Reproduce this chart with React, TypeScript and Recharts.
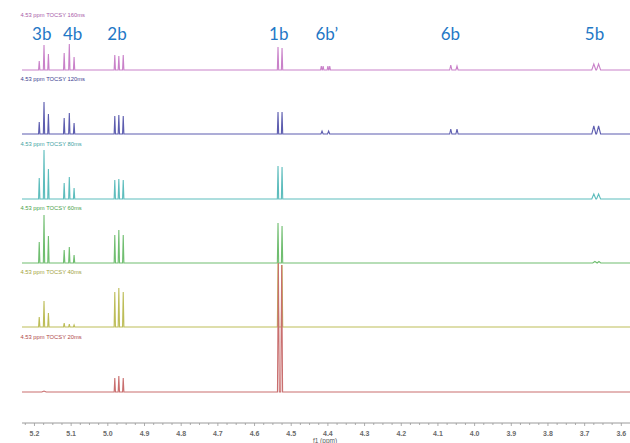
import { LineChart, Line, XAxis, YAxis, ReferenceDot } from 'recharts';

// TOCSY mixing times, top trace first
const mixTimes = ['160ms', '120ms', '80ms', '60ms', '40ms', '20ms'];
const traceColors = ['#c981c9', '#5d5daf', '#5dbdbd', '#70be70', '#bdbd58', '#c96f6f'];
const titleColors = ['#a85aa8', '#3d3d8f', '#3fa3a3', '#4aa24a', '#a3a33a', '#b04848'];
// baseline of each trace, in px from the top of the plot area
const baselines = [70, 134, 199, 263, 327, 392];

// [shift (ppm), intensity, half width (ppm)]
type Peak = [number, number, number?];

const peaks160: Peak[] = [
  [5.187, 9], [5.174, 25], [5.162, 16],
  [5.119, 17], [5.105, 26], [5.092, 13],
  [4.981, 15], [4.970, 14], [4.958, 15],
  [4.536, 23], [4.525, 22],
  [4.418, 4, 0.002], [4.413, 4, 0.002], [4.400, 4, 0.002], [4.395, 4, 0.002],
  [4.065, 5, 0.003], [4.048, 4, 0.003],
  [3.675, 6, 0.0055], [3.662, 6, 0.0055],
];
const peaks120: Peak[] = [
  [5.187, 12], [5.174, 32], [5.162, 20],
  [5.119, 16], [5.105, 21], [5.092, 11],
  [4.981, 18], [4.970, 19], [4.958, 18],
  [4.536, 22], [4.525, 22],
  [4.416, 3, 0.003], [4.398, 3, 0.003],
  [4.065, 5, 0.003], [4.048, 5, 0.003],
  [3.675, 8, 0.0055], [3.662, 8, 0.0055],
];
const peaks80: Peak[] = [
  [5.187, 21], [5.174, 49], [5.162, 30],
  [5.119, 16], [5.105, 22], [5.092, 11],
  [4.981, 19], [4.970, 20], [4.958, 19],
  [4.536, 33], [4.525, 32],
  [3.675, 5, 0.0055], [3.662, 5, 0.0055],
];
const peaks60: Peak[] = [
  [5.187, 21], [5.174, 48], [5.162, 27],
  [5.119, 13], [5.105, 16], [5.092, 8],
  [4.981, 28], [4.970, 33], [4.958, 28],
  [4.536, 40], [4.525, 37],
  [3.672, 1.5, 0.006], [3.661, 1.5, 0.005],
];
const peaks40: Peak[] = [
  [5.187, 10], [5.174, 26], [5.162, 14],
  [5.119, 4], [5.105, 3], [5.092, 2],
  [4.981, 35], [4.970, 39], [4.958, 35],
  [4.536, 64], [4.525, 62],
];
const peaks20: Peak[] = [
  [5.174, 1, 0.006],
  [4.981, 14], [4.970, 16], [4.958, 14],
  [4.535, 129, 0.0025], [4.526, 127, 0.0025],
];
const allPeaks = [peaks160, peaks120, peaks80, peaks60, peaks40, peaks20];

// assignments written above the top trace
const assignLabels = ['3b', '4b', '2b', '1b', '6b\u2019', '6b', '5b'];
const assignShifts = [5.180, 5.096, 4.975, 4.534, 4.403, 4.066, 3.673];

const PPM_MIN = 3.5;
const PPM_MAX = 5.234;
const PLOT_H = 423;

// ticks every 0.025 ppm, labelled every 0.1
const ticks = Array.from({ length: 70 }, (_, i) => (140 + i) * 25 / 1000);

function toTrace(peaks: Peak[]) {
  const pts = [{ ppm: PPM_MAX, v: 0 }];
  [...peaks].sort((a, b) => b[0] - a[0]).forEach(([p, h, w = 0.0018]) => {
    pts.push({ ppm: p + w, v: 0 }, { ppm: p, v: h }, { ppm: p - w, v: 0 });
  });
  pts.push({ ppm: PPM_MIN, v: 0 });
  return pts;
}

const PpmTick = ({ x, y, payload }: any) => {
  const v = payload.value as number;
  const major = Math.abs(v * 10 - Math.round(v * 10)) < 1e-6;
  return (
    <g>
      <line x1={x} x2={x} y1={y} y2={y + (major ? 3 : 2)} stroke="#999" strokeWidth={0.8} />
      {major && (
        <text x={x} y={y + 10} textAnchor="middle" dominantBaseline="central"
          fontSize={7} fontWeight={600} fill="#6a6a6a" fontFamily="'Liberation Sans', sans-serif">
          {v.toFixed(1)}
        </text>
      )}
    </g>
  );
};

const AxisTitle = ({ viewBox }: any) => (
  <text x={viewBox.x + 303} y={viewBox.y + 17} textAnchor="middle" dominantBaseline="central"
    fontSize={6.5} fill="#555" fontFamily="'Liberation Sans', sans-serif">
    f1 (ppm)
  </text>
);

export default function App() {
  return (
    <div style={{ position: 'fixed', top: 0, left: 0, width: 630, height: 443, overflow: 'hidden', background: '#fff' }}>
      <LineChart width={660} height={443} margin={{ top: 0, right: 2, bottom: 0, left: 22 }}>
        <XAxis
          type="number" dataKey="ppm" domain={[PPM_MIN, PPM_MAX]} reversed allowDataOverflow
          ticks={ticks} interval={0} tickSize={0} tickMargin={0} tickLine={false}
          tick={<PpmTick />} axisLine={{ stroke: '#9a9a9a' }} height={20}
          label={<AxisTitle />}
        />
        {mixTimes.map((t, i) => (
          <YAxis key={t} yAxisId={t} hide allowDataOverflow
            domain={[baselines[i] - PLOT_H, baselines[i]]} />
        ))}
        {mixTimes.map((t, i) => (
          <Line key={t} yAxisId={t} data={toTrace(allPeaks[i])} dataKey="v" type="linear"
            stroke={traceColors[i]} strokeWidth={1.1} dot={false} activeDot={false}
            isAnimationActive={false} />
        ))}
        {mixTimes.map((t, i) => (
          <ReferenceDot key={`title-${t}`} yAxisId={t} x={5.23} y={55} r={1}
            shape={(p: any) => (
              <text x={p.cx - 3} y={p.cy} dominantBaseline="central" fontSize={5.8}
                fill={titleColors[i]} fontFamily="'Liberation Sans', sans-serif">
                {`4.53 ppm TOCSY ${t}`}
              </text>
            )} />
        ))}
        {assignLabels.map((a, i) => (
          <ReferenceDot key={`assign-${a}`} yAxisId={mixTimes[0]} x={assignShifts[i]} y={37} r={1}
            shape={(p: any) => (
              <text x={p.cx} y={p.cy} textAnchor="middle" dominantBaseline="central"
                fontSize={17} fill="#1f78c6" fontFamily="Lato, 'Open Sans', sans-serif">
                {a}
              </text>
            )} />
        ))}
      </LineChart>
    </div>
  );
}
